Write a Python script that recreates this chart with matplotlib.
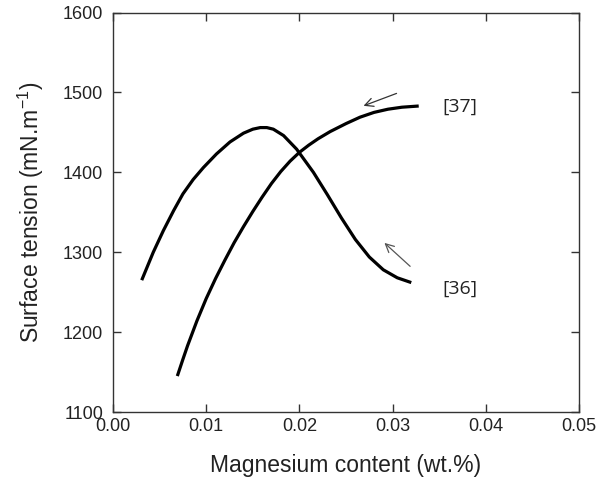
import matplotlib
matplotlib.use("Agg")
import matplotlib.pyplot as plt

plt.rcParams['font.family'] = ['Liberation Sans', 'DejaVu Sans']

# curve [36]
mg_36 = [0.00308, 0.00432, 0.0054, 0.0065, 0.0075, 0.0086, 0.0097, 0.0111,
         0.01255, 0.0140, 0.0150, 0.0158, 0.0165, 0.0172, 0.0183, 0.0197, 0.0215,
         0.0230, 0.0245, 0.0260, 0.0275, 0.0290, 0.0305, 0.0320]
st_36 = [1265, 1300, 1327, 1352, 1373, 1391, 1406, 1423,
         1438, 1449, 1454, 1456, 1456, 1454, 1446, 1429, 1400,
         1372, 1343, 1316, 1294, 1278, 1268, 1262]

# curve [37]
mg_37 = [0.0069, 0.0075, 0.0080, 0.0090, 0.0100, 0.0110, 0.0120, 0.0130,
         0.0140, 0.0150, 0.0160, 0.0170, 0.0180, 0.0190, 0.0200, 0.0210,
         0.0220, 0.0233, 0.0250, 0.0265, 0.0280, 0.0295, 0.0310, 0.0328]
st_37 = [1145, 1166, 1183, 1214, 1242, 1267, 1290, 1312,
         1332, 1351, 1369, 1386, 1401, 1414, 1425, 1434,
         1442, 1451, 1461, 1469, 1475, 1479, 1481.5, 1483]

xticks = [0.00, 0.01, 0.02, 0.03, 0.04, 0.05]
yticks = [1100, 1200, 1300, 1400, 1500, 1600]

fig = plt.figure(figsize=(5.97, 4.82), dpi=100)
ax = fig.add_axes([0.1893, 0.1452, 0.7806, 0.8288])

ax.plot(mg_36, st_36, color='black', lw=2.3, solid_capstyle='butt', solid_joinstyle='round')
ax.plot(mg_37, st_37, color='black', lw=2.3, solid_capstyle='butt', solid_joinstyle='round')

# arrows and reference labels
ax.annotate('', xy=(0.0266, 1482), xytext=(0.0307, 1500),
            arrowprops=dict(arrowstyle='->', color='#333333', lw=0.9, mutation_scale=15))
ax.annotate('', xy=(0.0289, 1314), xytext=(0.0321, 1280),
            arrowprops=dict(arrowstyle='->', color='#555555', lw=0.9, mutation_scale=15))
ax.text(0.0372, 1482, '[37]', fontsize=14, ha='center', va='center',
        family=['Open Sans', 'DejaVu Sans'], color='#222222')
ax.text(0.0372, 1254, '[36]', fontsize=14, ha='center', va='center',
        family=['Open Sans', 'DejaVu Sans'], color='#222222')

ax.set_xlim(0, 0.05)
ax.set_ylim(1100, 1600)
ax.set_xticks(xticks)
ax.set_xticklabels(['%.2f' % v for v in xticks])
ax.set_yticks(yticks)
ax.tick_params(direction='in', top=True, right=True, length=6, width=1,
               labelsize=13, color='#333333', labelcolor='#222222')
ax.tick_params(axis='x', pad=4)
ax.tick_params(axis='y', pad=7)
for s in ax.spines.values():
    s.set_color('#333333')
    s.set_linewidth(1.0)

ax.set_xlabel('Magnesium content (wt.%)', fontsize=16.5, labelpad=14, color='#222222')
ax.set_ylabel('Surface tension (mN.m$^{\\mathregular{-1}}$)', fontsize=16.5, labelpad=12,
              color='#222222')

fig.savefig('out.png', dpi=100)
